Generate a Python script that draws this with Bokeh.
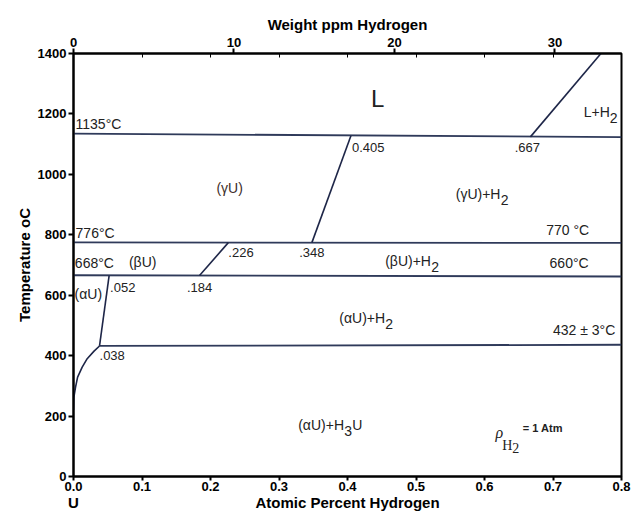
from bokeh.plotting import figure
from bokeh.models import LinearAxis, Range1d, FixedTicker, PrintfTickFormatter
from bokeh.core.properties import value
from bokeh.embed import file_html
from bokeh.resources import INLINE

# ---------------- data ----------------
x_ticks = [0.0, 0.1, 0.2, 0.3, 0.4, 0.5, 0.6, 0.7, 0.8]
t_ticks = [0, 200, 400, 600, 800, 1000, 1200, 1400]
ppm_ticks = [0, 10, 20, 30]
ppm_max = 34.15          # weight ppm H equivalent of 0.8 at.% H

# isotherms (left end / right end temperatures)
iso_x_start = [0.0, 0.0, 0.0, 0.038]
iso_x_end = [0.8, 0.8, 0.8, 0.8]
iso_t_start = [1135, 775, 666, 432]
iso_t_end = [1123, 773, 662, 436]

# phase boundaries
gamma_x = [0.348, 0.405]
gamma_t = [774, 1128]
beta_x = [0.184, 0.226]
beta_t = [665, 774]
alpha_x = [0.038, 0.052]
alpha_t = [432, 665]
liq_x = [0.667, 0.770]
liq_t = [1124, 1400]
solvus_x = [0.0, 0.0005, 0.003, 0.006, 0.0127, 0.020, 0.030, 0.038]
solvus_t = [220, 262, 296, 329, 362, 390, 415, 432]

# composition labels
comp_vals = [0.405, 0.667, 0.226, 0.348, 0.052, 0.184, 0.038]
comp_text = ["0.405", ".667", ".226", ".348", ".052", ".184", ".038"]

FONT = "Liberation Sans"
LINE = "#1e2648"
ISO = "#2f3a5a"
TXT = "#222222"

p = figure(width=638, height=513, x_range=Range1d(0, 0.8), y_range=Range1d(0, 1400),
           output_backend="svg", toolbar_location=None,
           min_border_left=73, min_border_right=17, min_border_top=53, min_border_bottom=36)
p.grid.visible = False
p.outline_line_color = "black"
p.outline_line_width = 2
p.background_fill_color = "white"
p.border_fill_color = "white"

# bottom axis
xa = p.xaxis[0]
xa.ticker = FixedTicker(ticks=x_ticks)
xa.formatter = PrintfTickFormatter(format="%.1f")
# left axis
ya = p.yaxis[0]
ya.ticker = FixedTicker(ticks=t_ticks)
ya.axis_label = "Temperature oC"

# top axis
p.extra_x_ranges = {"ppm": Range1d(0, ppm_max)}
minor_ppm = [x * ppm_max / 0.8 for x in x_ticks[1:-1]]
ta = LinearAxis(x_range_name="ppm", ticker=FixedTicker(ticks=ppm_ticks, minor_ticks=minor_ppm),
                axis_label="Weight ppm Hydrogen")
p.add_layout(ta, "above")

for ax in [xa, ya, ta]:
    ax.axis_line_color = "black"
    ax.axis_line_width = 2
    ax.major_tick_line_color = "black"
    ax.major_tick_line_width = 2
    ax.major_tick_out = 5
    ax.major_tick_in = 0
    ax.minor_tick_line_color = None
    ax.major_label_text_font = FONT
    ax.major_label_text_font_style = "bold"
    ax.major_label_text_font_size = "13px"
    ax.major_label_text_color = "black"
    ax.major_label_standoff = 2
    ax.axis_label_text_font = FONT
    ax.axis_label_text_font_style = "bold"
    ax.axis_label_text_font_size = "15px"
    ax.axis_label_text_color = "black"
    ax.axis_label_standoff = 2
xa.major_tick_out = 4
xa.major_label_standoff = 1
ta.minor_tick_line_color = "black"
ta.minor_tick_in = 4
ta.minor_tick_out = 0
ta.minor_tick_line_width = 1

# second bottom row: "U" under 0.0 and the axis title centred
title_row = LinearAxis(ticker=FixedTicker(ticks=[0.0, 0.4]),
                       major_label_overrides={0.0: "U", 0.4: "Atomic Percent Hydrogen"},
                       axis_line_color=None, major_tick_line_color=None,
                       minor_tick_line_color=None, major_label_standoff=0,
                       major_tick_in=0, major_tick_out=0, minor_tick_in=0, minor_tick_out=0,
                       major_label_text_font=FONT, major_label_text_font_style="bold",
                       major_label_text_font_size="15px", major_label_text_color="black")
p.add_layout(title_row, "below")

# ---------------- lines ----------------
p.segment(x0=iso_x_start, y0=iso_t_start, x1=iso_x_end, y1=iso_t_end,
          line_color=ISO, line_width=1.8)
for xs, ts in [(gamma_x, gamma_t), (beta_x, beta_t), (alpha_x, alpha_t),
               (liq_x, liq_t), (solvus_x, solvus_t)]:
    p.line(xs, ts, line_color=LINE, line_width=1.6)


def txt(x, y, s, size="14px", align="left", baseline="middle", xo=0, yo=0,
        style="normal", font=FONT, color=TXT):
    p.text(x=[x], y=[y], text=[s], text_font=value(font), text_font_size=size,
           text_align=align, text_baseline=baseline, x_offset=xo, y_offset=yo,
           text_font_style=style, text_color=color)


def sub(x, y, main, s, w, tail=None, tw=0, size="14px"):
    txt(x, y, main, size=size)
    txt(x, y, s, size=size, xo=w, yo=6)
    if tail:
        txt(x, y, tail, size=size, xo=w + tw)


# composition labels
aligns = ["left", "center", "left", "center", "left", "center", "left"]
tops = [1103, 1103, 755, 755, 642, 639, 417]
xo = [1, -3, 0, 0, 1, 0, 0]
for v, s, a, t, o in zip(comp_vals, comp_text, aligns, tops, xo):
    txt(v, t, s, size="13px", align=a, baseline="top", xo=o)

# temperature labels
txt(0.003, 1139, "1135°C", baseline="bottom")
txt(0.003, 781, "776°C", baseline="bottom")
txt(0.002, 679, "668°C", baseline="bottom")
txt(0.690, 791, "770 °C", baseline="bottom")
txt(0.695, 679, "660°C", baseline="bottom")
txt(0.700, 460, "432 ± 3°C", baseline="bottom")

# phase labels
txt(0.444, 1252, "L", size="24px", align="center")
sub(0.745, 1205, "L+H", "2", 26)
txt(0.228, 954, "(γU)", align="center", color="#3d2e2a")
sub(0.558, 934, "(γU)+H", "2", 45)
txt(0.101, 709, "(βU)", align="center")
sub(0.455, 712, "(βU)+H", "2", 46)
txt(0.0015, 603, "(αU)")
sub(0.388, 523, "(αU)+H", "2", 46)
sub(0.328, 169, "(αU)+H", "3", 46, tail="U", tw=8)

# pressure note
txt(0.616, 146, "ρ", size="16px", font="Liberation Serif", style="italic")
txt(0.626, 113, "H", size="14px", font="Liberation Serif", yo=3)
txt(0.626, 113, "2", size="14px", font="Liberation Serif", xo=10, yo=6)
txt(0.656, 164, "= 1 Atm", size="11px", style="bold", yo=1)

open("out.html", "w").write(file_html(p, INLINE))
